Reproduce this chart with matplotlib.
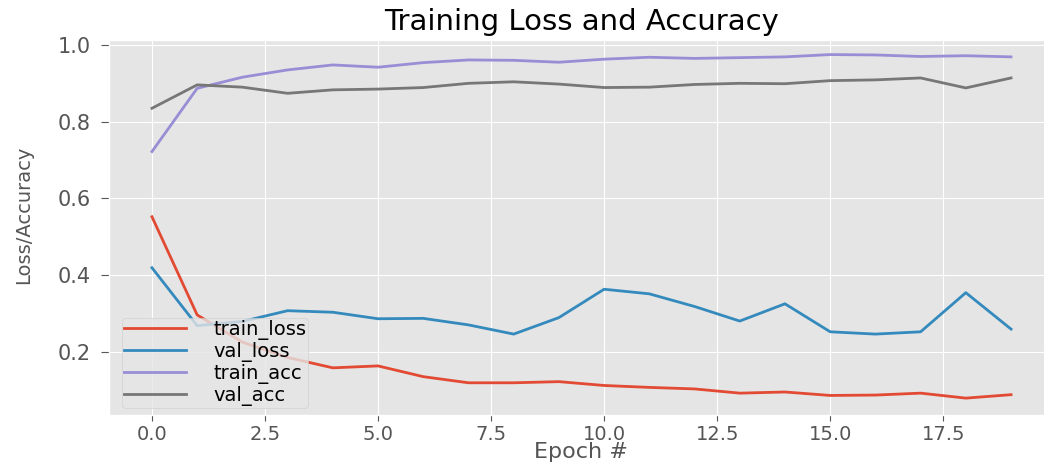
import matplotlib
matplotlib.use("Agg")
import matplotlib.pyplot as plt
from matplotlib import font_manager
import numpy as np

plt.style.use("ggplot")

# training history (20 epochs)
epochs = np.arange(20)
train_loss = [0.552, 0.296, 0.225, 0.185, 0.158, 0.163, 0.135, 0.119, 0.119, 0.122,
              0.112, 0.107, 0.103, 0.092, 0.095, 0.086, 0.087, 0.092, 0.079, 0.088]
val_loss = [0.419, 0.268, 0.279, 0.307, 0.303, 0.286, 0.287, 0.270, 0.246, 0.289,
            0.363, 0.351, 0.318, 0.280, 0.325, 0.252, 0.246, 0.252, 0.354, 0.259]
train_acc = [0.722, 0.887, 0.916, 0.935, 0.948, 0.942, 0.954, 0.961, 0.960, 0.955,
             0.963, 0.968, 0.965, 0.967, 0.969, 0.975, 0.974, 0.970, 0.972, 0.969]
val_acc = [0.835, 0.896, 0.890, 0.874, 0.883, 0.885, 0.889, 0.900, 0.904, 0.898,
           0.889, 0.890, 0.897, 0.900, 0.899, 0.907, 0.909, 0.914, 0.888, 0.914]

# the y label in the reference looks condensed; use a narrow face if there is one
narrow = "DejaVu Sans"
for name in ["Liberation Sans Narrow", "DejaVu Sans Condensed"]:
    try:
        font_manager.findfont(name, fallback_to_default=False)
        narrow = name
        break
    except ValueError:
        pass

fig = plt.figure(figsize=(10.44, 4.63), dpi=100)
# panel runs slightly past the right edge, as in the reference crop
ax = fig.add_axes([109 / 1044, 48 / 463, 945 / 1044, 375 / 463])

ax.plot(epochs, train_loss, label="train_loss", lw=2)
ax.plot(epochs, val_loss, label="val_loss", lw=2)
ax.plot(epochs, train_acc, label="train_acc", lw=2)
ax.plot(epochs, val_acc, label="val_acc", lw=2)

ax.set_ylim(0.035, 1.013)
ax.set_title("Training Loss and Accuracy", fontsize=21, color="black", pad=7)
ax.set_xlabel("Epoch #", fontsize=16, labelpad=-1)
ax.set_ylabel("Loss/Accuracy", fontsize=14, family=narrow)
ax.yaxis.set_label_coords(-0.08, 0.533)
ax.tick_params(axis="x", labelsize=14, length=4, pad=3)
ax.tick_params(axis="y", labelsize=15, length=6, pad=7)
ax.set_yticks([0.2, 0.4, 0.6, 0.8, 1.0])

ax.legend(loc="lower left", bbox_to_anchor=(13 / 945, 7 / 375), borderaxespad=0,
          fontsize=14, labelspacing=0.1, handlelength=3.2, handletextpad=1.4,
          borderpad=0.1)

fig.savefig("out.png", dpi=100)
